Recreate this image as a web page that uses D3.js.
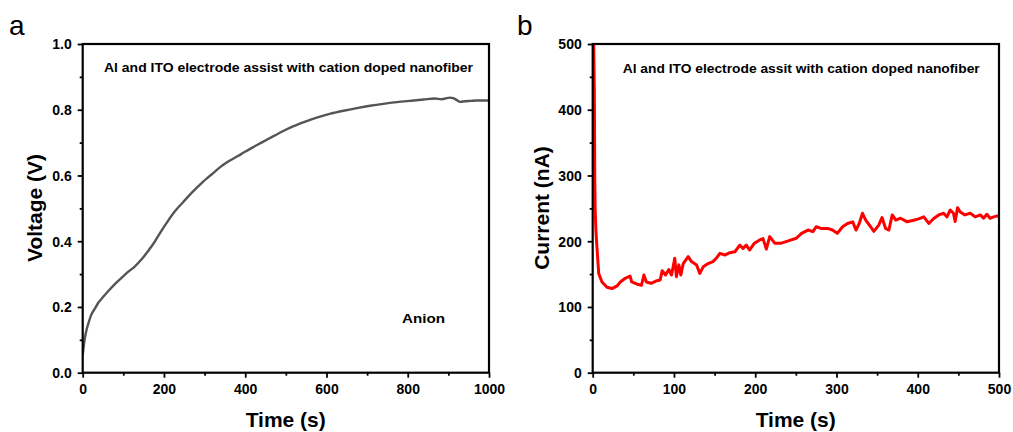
<!DOCTYPE html>
<html><head><meta charset="utf-8">
<script src="https://cdn.jsdelivr.net/npm/d3@7"></script>
<style>
html,body{margin:0;padding:0;background:#fff;}
svg{display:block;font-family:"Liberation Sans",Arial,sans-serif;}
</style></head>
<body>
<svg id="chart" width="1013" height="432"></svg>
<script>
// Panel a: voltage vs time
const voltTime = [0,1,3,6,9,14,21,30,38,50,62,78,95,110,128,145,161,178,194,210,227,248,268,292,317,340,366,390,412,440,461,490,519,548,576,610,642,675,707,740,773,805,839,867,883,904,912,920,929,941,955,970,985,1000];
const voltValue = [0.055,0.065,0.085,0.11,0.128,0.15,0.176,0.195,0.212,0.23,0.247,0.268,0.288,0.305,0.323,0.345,0.37,0.40,0.432,0.462,0.491,0.52,0.547,0.576,0.603,0.627,0.648,0.665,0.681,0.700,0.714,0.733,0.750,0.764,0.776,0.788,0.797,0.805,0.812,0.818,0.823,0.827,0.831,0.834,0.832,0.837,0.835,0.83,0.824,0.826,0.827,0.828,0.828,0.828];

// Panel b: current vs time
const currTime = [0,1,2,2.5,3,4,5,7.4,11.4,17.6,23.8,30,34,40,46,48,54,60,63,66,72,79,83,85.5,89.6,93.7,97,101,103,106,108.5,111.4,117.5,121.6,127.8,131.8,136,142,148,152,156.5,162.6,168.7,175,181,185,189,193,199,205.5,209.6,213.7,217.8,224,232,238,244.4,250.6,257,265,271,275,281,289,295,301,307.5,313.6,320,324,328,332,336,342,346,352,356,360.5,364.5,368.6,373,379,387,395,401,407.5,413.6,419.7,425.8,432,436,440,444,446,449,452,458,464.6,470.7,477,481,485,489,493.6,497.7,500];
const currValue = [560,520,430,300,250,215,195,151,138,130,128,132,138,143.6,147,138,135,133,148.6,138,136,140,141,155,148.6,157,148.6,174,146,164,148.6,166,176.5,169,164,151,161,166,169,174,181.6,179,182.5,184,194,189,194,186.6,197,202,204,188,207,197,197,199.5,202,204.5,212,217,214.5,222,219.5,219.5,217,212,222,227,229.5,217,227,242.5,232,222,215,224.5,236,219.5,217,240,232,235,229.5,232,234,237,227,234.5,240,242.5,237,247.5,242.5,230,251,245,240,242.5,237,240,235,241,235,237,238.5,238];

const voltXTicks = [0,200,400,600,800,1000];
const voltYTicks = [0.0,0.2,0.4,0.6,0.8,1.0];
const currXTicks = [0,100,200,300,400,500];
const currYTicks = [0,100,200,300,400,500];

const svg = d3.select("#chart");

function panel(opt){
  const g = svg.append("g");
  const x = d3.scaleLinear().domain(opt.xDomain).range([opt.left, opt.left+406.3]);
  const y = d3.scaleLinear().domain(opt.yDomain).range([372.7, 44]);
  const clipId = "clip"+opt.letter;
  svg.append("clipPath").attr("id",clipId).append("rect")
    .attr("x",x.range()[0]).attr("y",44).attr("width",406.3).attr("height",328.7);

  // minor ticks
  const xAx = d3.axisBottom(x).tickValues(opt.xMinor).tickSize(3).tickFormat("");
  const yAx = d3.axisLeft(y).tickValues(opt.yMinor).tickSize(3).tickFormat("");
  g.append("g").attr("transform",`translate(0,372.7)`).call(xAx).call(s=>s.select(".domain").remove())
    .selectAll("line").attr("stroke","#000").attr("stroke-width",1.8);
  g.append("g").attr("transform",`translate(${opt.left},0)`).call(yAx).call(s=>s.select(".domain").remove())
    .selectAll("line").attr("stroke","#000").attr("stroke-width",1.8);

  // major ticks
  const xMaj = d3.axisBottom(x).tickValues(opt.xTicks).tickSize(5).tickPadding(6).tickFormat(opt.xFmt);
  const yMaj = d3.axisLeft(y).tickValues(opt.yTicks).tickSize(5).tickPadding(6).tickFormat(opt.yFmt);
  const gx = g.append("g").attr("transform",`translate(0,372.7)`).call(xMaj);
  const gy = g.append("g").attr("transform",`translate(${opt.left},0)`).call(yMaj);
  [gx,gy].forEach(a=>{
    a.select(".domain").remove();
    a.selectAll("line").attr("stroke","#000").attr("stroke-width",1.8);
    a.selectAll("text").attr("fill","#000").style("font-size","14px").style("font-weight","bold")
      .style("font-family","'Liberation Sans',Arial,sans-serif");
  });
  gy.selectAll("text").attr("dy","0.35em");

  // data line
  const line = d3.line().x(d=>x(d[0])).y(d=>y(d[1])).curve(opt.curve);
  g.append("path").datum(opt.t.map((t,i)=>[t,opt.v[i]]))
    .attr("clip-path",`url(#${clipId})`)
    .attr("d",line).attr("fill","none").attr("stroke",opt.color)
    .attr("stroke-width",opt.lw).attr("stroke-linejoin","round");

  // frame
  g.append("rect").attr("x",opt.left).attr("y",44).attr("width",406.3).attr("height",328.7)
    .attr("fill","none").attr("stroke","#000").attr("stroke-width",2.2);

  // titles
  g.append("text").attr("x",opt.left+203).attr("y",426.5).attr("text-anchor","middle")
    .style("font-size","21px").style("font-weight","bold").text("Time (s)");
  g.append("text").attr("transform",`translate(${opt.yTitleX},208) rotate(-90)`).attr("text-anchor","middle")
    .style("font-size","21px").style("font-weight","bold").text(opt.yTitle);
  g.append("text").attr("x",opt.letterX).attr("y",35).style("font-size","28px").text(opt.letter);
  g.append("text").attr("x",opt.noteX).attr("y",opt.noteY).attr("text-anchor","start")
    .attr("textLength",opt.noteW).attr("lengthAdjust","spacingAndGlyphs")
    .style("font-size","12.5px").style("font-weight","bold").text(opt.note);
  return {g,x,y};
}

const pa = panel({letter:"a", letterX:9, left:82.7, xDomain:[0,1000], yDomain:[0,1],
  xTicks:voltXTicks, yTicks:voltYTicks, xMinor:[100,300,500,700,900], yMinor:[0.1,0.3,0.5,0.7,0.9],
  xFmt:d3.format("d"), yFmt:d3.format(".1f"), t:voltTime, v:voltValue, color:"#555555", lw:2.4,
  curve:d3.curveMonotoneX,
  yTitle:"Voltage (V)", yTitleX:42, note:"Al and ITO electrode assist with cation doped nanofiber",
  noteX:104, noteY:72, noteW:369});
pa.g.append("text").attr("x",402).attr("y",323).attr("textLength",43).attr("lengthAdjust","spacingAndGlyphs")
  .style("font-size","13px").style("font-weight","bold").text("Anion");

panel({letter:"b", letterX:517, left:592.7, xDomain:[0,500], yDomain:[0,500],
  xTicks:currXTicks, yTicks:currYTicks, xMinor:[50,150,250,350,450], yMinor:[50,150,250,350,450],
  xFmt:d3.format("d"), yFmt:d3.format("d"), t:currTime, v:currValue, color:"#ff0000", lw:3,
  curve:d3.curveLinear,
  yTitle:"Current (nA)", yTitleX:549, note:"Al and ITO electrode assit with cation doped nanofiber",
  noteX:622.7, noteY:73, noteW:357});
</script>
</body></html>
